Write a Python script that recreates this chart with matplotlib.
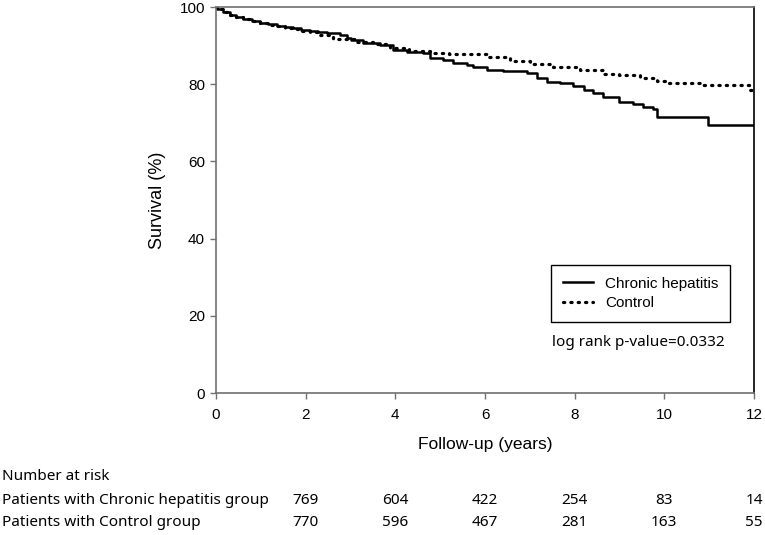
import matplotlib.pyplot as plt
from matplotlib.lines import Line2D

# Kaplan-Meier curves (time in years, survival in %)
hep_t = [0, 0.02, 0.15, 0.31, 0.45, 0.6, 0.8, 0.98, 1.17, 1.36, 1.54, 1.72, 1.9, 2.1,
         2.28, 2.47, 2.77, 2.92, 3.0, 3.28, 3.66, 3.95, 4.26, 4.62, 4.77, 5.06, 5.29,
         5.6, 5.73, 6.04, 6.4, 6.94, 7.16, 7.38, 7.67, 7.96, 8.2, 8.42, 8.64, 8.86,
         9.0, 9.3, 9.53, 9.75, 9.84, 10.98, 12]
hep_s = [100, 99.5, 98.8, 97.9, 97.3, 96.8, 96.3, 95.9, 95.5, 95.2, 94.8, 94.5, 94.1, 93.8,
         93.5, 93.2, 92.7, 92.1, 91.4, 90.6, 90.2, 88.9, 88.4, 88.0, 86.7, 86.4, 85.6,
         85.0, 84.4, 83.8, 83.4, 83.0, 81.7, 80.7, 80.2, 79.5, 78.5, 77.6, 76.8, 76.6,
         75.5, 74.8, 74.0, 73.7, 71.4, 69.4, 69.4]

ctl_t = [0, 0.02, 0.15, 0.31, 0.45, 0.6, 0.8, 0.98, 1.17, 1.36, 1.54, 1.72, 1.9, 2.1,
         2.3, 2.6, 3.1, 3.5, 3.88, 4.3, 4.77, 5.2, 5.73, 6.1, 6.56, 7.0, 7.52, 8.12,
         8.64, 9.0, 9.46, 9.84, 10.06, 10.87, 11.9, 12]
ctl_s = [100, 99.5, 98.8, 97.9, 97.3, 96.8, 96.3, 95.8, 95.4, 95.0, 94.6, 94.2, 93.8, 93.4,
         92.8, 91.6, 91.0, 90.3, 89.5, 88.6, 88.0, 87.9, 87.7, 87.1, 86.1, 85.2, 84.4, 83.8,
         82.6, 82.4, 81.5, 80.9, 80.4, 79.8, 78.5, 78.5]

risk_times = [2, 4, 6, 8, 10, 12]
risk_hep = [769, 604, 422, 254, 83, 14]
risk_ctl = [770, 596, 467, 281, 163, 55]

fig = plt.figure(figsize=(7.65, 5.35), dpi=100)
ax = fig.add_axes([0.2824, 0.2654, 0.7032, 0.7215])

dots = (0, (0.4, 1.9))
ax.step(hep_t, hep_s, where='post', color='black', lw=1.8, label='Chronic hepatitis')
ax.step(ctl_t, ctl_s, where='post', color='black', lw=2.3, linestyle=dots,
        dash_capstyle='round', label='Control')

ax.set_xlim(0, 12)
ax.set_ylim(0, 100)
ax.set_xticks(range(0, 13, 2))
ax.set_yticks(range(0, 101, 20))
for side in ['left', 'bottom', 'top']:
    ax.spines[side].set_color('#707070')
    ax.spines[side].set_linewidth(1.2)
ax.spines['right'].set_color('black')
ax.spines['right'].set_linewidth(1.2)
ax.tick_params(direction='out', length=4.5, labelsize=11, width=1, color='#707070')
ax.tick_params(axis='x', pad=6)
for lab in ax.get_xticklabels() + ax.get_yticklabels():
    lab.set_fontfamily('Liberation Sans')

ax.set_xlabel('Follow-up (years)', fontsize=12.5, family='Liberation Sans', labelpad=11)
ax.set_ylabel('Survival (%)', fontsize=13, family='Liberation Sans', labelpad=10)

handles = [Line2D([], [], color='black', lw=1.8),
           Line2D([], [], color='black', lw=2.3, linestyle=dots, dash_capstyle='round')]
leg = ax.legend(handles, ['Chronic hepatitis', 'Control'], loc='upper left',
                bbox_to_anchor=(0.623, 0.331), borderaxespad=0, fancybox=False,
                framealpha=1, edgecolor='black', handlelength=2.0, handletextpad=0.8,
                borderpad=0.75, labelspacing=0.35,
                prop={'family': 'Liberation Sans', 'size': 11})
leg.get_frame().set_linewidth(1.0)

ax.text(0.624, 0.132, 'log rank p-value=0.0332', transform=ax.transAxes,
        fontsize=11, family='Noto Sans', va='center')

# Number at risk table
fig.text(0.003, 1 - 477 / 535, 'Number at risk', fontsize=11, family='Noto Sans', va='center')
fig.text(0.003, 1 - 500 / 535, 'Patients with Chronic hepatitis group', fontsize=11,
         family='Noto Sans', va='center')
fig.text(0.003, 1 - 522 / 535, 'Patients with Control group', fontsize=11,
         family='Noto Sans', va='center')
trans = ax.get_xaxis_transform()
for t, a, b in zip(risk_times, risk_hep, risk_ctl):
    ax.text(t, (1 - 500 / 535 - 0.2654) / 0.7215, str(a), transform=trans, ha='center',
            va='center', fontsize=11, family='Noto Sans', clip_on=False)
    ax.text(t, (1 - 522 / 535 - 0.2654) / 0.7215, str(b), transform=trans, ha='center',
            va='center', fontsize=11, family='Noto Sans', clip_on=False)

fig.savefig('out.png', dpi=100)
